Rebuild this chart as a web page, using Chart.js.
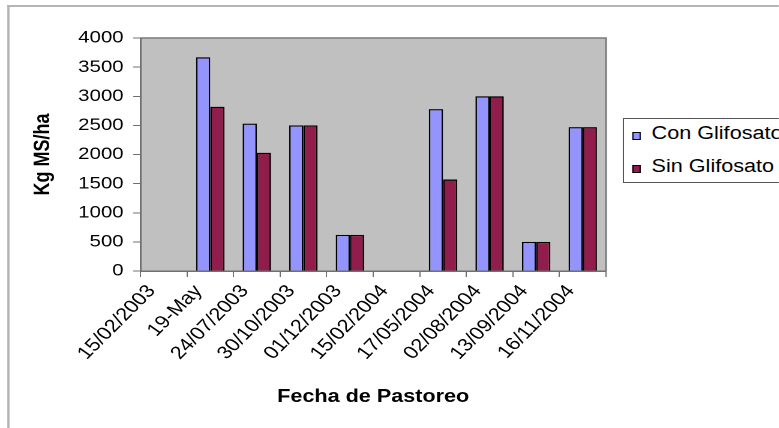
<!DOCTYPE html>
<html>
<head>
<meta charset="utf-8">
<script src="https://cdn.jsdelivr.net/npm/chart.js@4"></script>
<style>
  html, body { margin: 0; padding: 0; overflow: hidden; background: #fff; }
  /* the source picture is stretched sideways, so the whole chart is drawn narrower and scaled */
  #wrap { position: relative; width: 649px; height: 428px; overflow: hidden;
          transform: scaleX(1.2); transform-origin: 0 0; }
  #frame { position: absolute; left: 6px; top: 5px; width: 700px; height: 500px;
           border-top: 2px solid #b4b4b4; border-left: 2px solid #b4b4b4; }
  #c { position: absolute; left: 0; top: 0; }
  #legend { position: absolute; left: 519px; top: 118px; width: 160px; height: 65px;
            box-sizing: border-box; border: 1px solid #555; background: #fff;
            font-family: "Liberation Sans", Arial, sans-serif; font-size: 18px; color: #000; }
  .row { position: absolute; left: 0; height: 24px; line-height: 24px; white-space: nowrap; }
  .mark { display: inline-block; box-sizing: border-box; width: 7px; height: 8px;
          border: 1px solid #000; margin-left: 7px; margin-right: 9px; vertical-align: -1px; }
</style>
</head>
<body>
<div id="wrap">
  <div id="frame"></div>
  <canvas id="c" width="649" height="428"></canvas>
  <div id="legend"></div>
</div>
<script>
const categories = ['15/02/2003', '19-May', '24/07/2003', '30/10/2003', '01/12/2003',
                    '15/02/2004', '17/05/2004', '02/08/2004', '13/09/2004', '16/11/2004'];
const conGlifosato = [null, 3670, 2530, 2500, 620, null, 2780, 3000, 500, 2470];
const sinGlifosato = [null, 2820, 2030, 2500, 620, null, 1570, 3000, 500, 2470];
const yMin = 0;
const yMax = 4000;
const yStep = 500;

Chart.defaults.font.family = '"Liberation Sans", Arial, sans-serif';
Chart.defaults.color = '#000';

const plotBg = {
  id: 'plotBg',
  beforeDraw(chart) {
    const { ctx, chartArea: a } = chart;
    ctx.save();
    ctx.fillStyle = '#c0c0c0';
    ctx.fillRect(a.left, a.top, a.right - a.left, a.bottom - a.top);
    ctx.strokeStyle = '#7a7a7a';
    ctx.lineWidth = 1.5;
    ctx.beginPath();
    ctx.moveTo(a.left, a.top);
    ctx.lineTo(a.right, a.top);
    ctx.lineTo(a.right, a.bottom);
    ctx.stroke();
    ctx.restore();
  }
};

const chart = new Chart(document.getElementById('c'), {
  type: 'bar',
  data: {
    labels: categories,
    datasets: [
      {
        label: 'Con Glifosato',
        data: conGlifosato,
        backgroundColor: '#9494ff',
        borderColor: '#000',
        borderWidth: 1.3,
        categoryPercentage: 0.61,
        barPercentage: 1
      },
      {
        label: 'Sin Glifosato',
        data: sinGlifosato,
        backgroundColor: '#911d4c',
        borderColor: '#000',
        borderWidth: 1.3,
        categoryPercentage: 0.61,
        barPercentage: 1
      }
    ]
  },
  options: {
    responsive: false,
    animation: false,
    devicePixelRatio: 2,
    layout: { padding: { top: 38, right: 144, left: 0, bottom: 0 } },
    plugins: { legend: { display: false }, tooltip: { enabled: false } },
    scales: {
      x: {
        grid: { offset: true, drawOnChartArea: false, tickLength: 6, color: '#707070' },
        border: { color: '#707070', width: 1.5 },
        ticks: { autoSkip: false, minRotation: 50, maxRotation: 50, padding: 4,
                 labelOffset: -10, font: { size: 18 } },
        title: { display: true, text: 'Fecha de Pastoreo', font: { size: 18, weight: 'bold' },
                 padding: { top: 0, bottom: 20 } },
        afterFit: s => { s.height = 157; }
      },
      y: {
        min: yMin,
        max: yMax,
        grid: { drawOnChartArea: false, tickLength: 6, color: '#707070' },
        border: { color: '#707070', width: 1.5 },
        ticks: { stepSize: yStep, padding: 8, font: { size: 17 }, callback: v => String(v) },
        title: { display: true, text: 'Kg MS/ha', font: { size: 18, weight: 'bold' },
                 padding: { top: 25, bottom: 0 } },
        afterFit: s => { s.width = 117; }
      }
    }
  },
  plugins: [plotBg]
});

// legend box, built from the datasets
const legendEl = document.getElementById('legend');
chart.data.datasets.forEach((ds, i) => {
  const row = document.createElement('div');
  row.className = 'row';
  row.style.top = (2 + i * 33) + 'px';
  const mark = document.createElement('span');
  mark.className = 'mark';
  mark.style.background = ds.backgroundColor;
  row.appendChild(mark);
  row.appendChild(document.createTextNode(ds.label));
  legendEl.appendChild(row);
});
</script>
</body>
</html>
